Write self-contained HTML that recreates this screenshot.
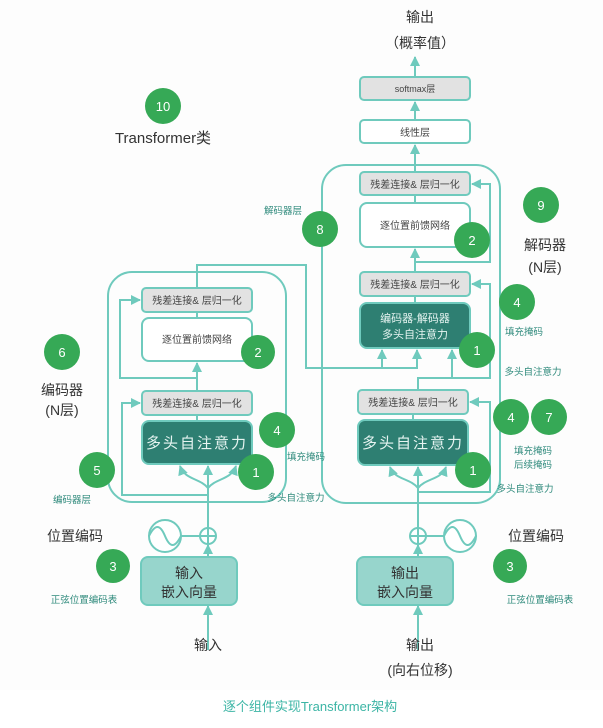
<!DOCTYPE html>
<html><head><meta charset="utf-8"><style>
html,body{margin:0;padding:0;background:#fff;}
svg{display:block;font-family:"Liberation Sans","Noto Sans CJK SC",sans-serif;}
</style></head><body>
<svg width="603" height="728" viewBox="0 0 603 728" xmlns="http://www.w3.org/2000/svg">
<defs>
<marker id="a" viewBox="0 0 10 10" refX="9" refY="5" markerWidth="5" markerHeight="5" orient="auto"><path d="M0,0 L10,5 L0,10 z" fill="#6fcabd"/></marker>
</defs>
<rect x="0" y="0" width="603" height="690" fill="#fdfdfd"/>
<g fill="none" stroke="#6fcabd" stroke-width="2">
<!-- encoder outer -->
<rect x="108" y="272" width="178" height="230" rx="24"/>
<!-- decoder outer -->
<rect x="322" y="165" width="178" height="338" rx="24"/>
<!-- encoder flow -->
<line x1="208" y1="650" x2="208" y2="606" marker-end="url(#a)"/>
<line x1="208" y1="557" x2="208" y2="545" marker-end="url(#a)"/>
<line x1="208" y1="528" x2="208" y2="466" marker-end="url(#a)"/>
<path d="M208,488 C200,478 185,480 180,466" marker-end="url(#a)"/>
<path d="M208,488 C216,478 231,480 236,466" marker-end="url(#a)"/>
<path d="M208,495 L122,495 L122,403 L140,403" marker-end="url(#a)"/>
<line x1="197" y1="421" x2="197" y2="415"/>
<line x1="197" y1="391" x2="197" y2="363" marker-end="url(#a)"/>
<path d="M197,378 L120,378 L120,300 L140,300" marker-end="url(#a)"/>
<line x1="197" y1="318" x2="197" y2="312"/>
<path d="M197,288 L197,265 L306,265 L306,368 L417,368 L417,350" marker-end="url(#a)"/>
<line x1="382" y1="368" x2="382" y2="350" marker-end="url(#a)"/>
<line x1="181" y1="536" x2="200" y2="536"/>
<!-- decoder flow -->
<line x1="418" y1="650" x2="418" y2="606" marker-end="url(#a)"/>
<line x1="418" y1="557" x2="418" y2="545" marker-end="url(#a)"/>
<line x1="418" y1="528" x2="418" y2="467" marker-end="url(#a)"/>
<path d="M418,488 C410,478 395,480 390,467" marker-end="url(#a)"/>
<path d="M418,488 C426,478 441,480 446,467" marker-end="url(#a)"/>
<path d="M418,492 L490,492 L490,402 L470,402" marker-end="url(#a)"/>
<line x1="413" y1="420" x2="413" y2="414"/>
<path d="M418,390 L418,378 L452,378 L452,350" marker-end="url(#a)"/>
<path d="M452,378 L490,378 L490,284 L472,284" marker-end="url(#a)"/>
<line x1="415" y1="303" x2="415" y2="296"/>
<line x1="415" y1="272" x2="415" y2="249" marker-end="url(#a)"/>
<path d="M415,262 L490,262 L490,184 L472,184" marker-end="url(#a)"/>
<line x1="415" y1="203" x2="415" y2="195"/>
<line x1="415" y1="172" x2="415" y2="145" marker-end="url(#a)"/>
<line x1="415" y1="120" x2="415" y2="102" marker-end="url(#a)"/>
<line x1="415" y1="77" x2="415" y2="57" marker-end="url(#a)"/>
<line x1="426" y1="536" x2="444" y2="536"/>
<!-- plus circles -->
<circle cx="208" cy="536" r="8" fill="#fff"/><line x1="200" y1="536" x2="216" y2="536"/><line x1="208" y1="528" x2="208" y2="544"/>
<circle cx="418" cy="536" r="8" fill="#fff"/><line x1="410" y1="536" x2="426" y2="536"/><line x1="418" y1="528" x2="418" y2="544"/>
<!-- sine circles -->
<circle cx="165" cy="536" r="16" fill="#fff"/><path d="M149,536 C155,524 160,524 165,536 C170,548 175,548 181,536"/>
<circle cx="460" cy="536" r="16" fill="#fff"/><path d="M444,536 C450,524 455,524 460,536 C465,548 470,548 476,536"/>
</g>
<!-- boxes -->
<g stroke="#6fcabd" stroke-width="2">
<rect x="142" y="288" width="110" height="24" rx="4" fill="#e2e2e2"/>
<rect x="142" y="318" width="110" height="43" rx="7" fill="#fff"/>
<rect x="142" y="391" width="110" height="24" rx="4" fill="#e2e2e2"/>
<rect x="142" y="421" width="110" height="43" rx="7" fill="#2e7f72"/>
<rect x="360" y="77" width="110" height="23" rx="4" fill="#e2e2e2"/>
<rect x="360" y="120" width="110" height="23" rx="4" fill="#fff"/>
<rect x="360" y="172" width="110" height="23" rx="4" fill="#e2e2e2"/>
<rect x="360" y="203" width="110" height="44" rx="7" fill="#fff"/>
<rect x="360" y="272" width="110" height="24" rx="4" fill="#e2e2e2"/>
<rect x="360" y="303" width="110" height="45" rx="7" fill="#2e7f72"/>
<rect x="358" y="390" width="110" height="24" rx="4" fill="#e2e2e2"/>
<rect x="358" y="420" width="110" height="45" rx="7" fill="#2e7f72"/>
<rect x="141" y="557" width="96" height="48" rx="7" fill="#97d5cc"/>
<rect x="357" y="557" width="96" height="48" rx="7" fill="#97d5cc"/>
</g>
<!-- box text -->
<g font-size="10" fill="#444" text-anchor="middle">
<text x="197" y="304">残差连接&amp; 层归一化</text>
<text x="197" y="343">逐位置前馈网络</text>
<text x="197" y="407">残差连接&amp; 层归一化</text>
<text x="415" y="92" font-size="9">softmax层</text>
<text x="415" y="136">线性层</text>
<text x="415" y="188">残差连接&amp; 层归一化</text>
<text x="415" y="229">逐位置前馈网络</text>
<text x="415" y="288">残差连接&amp; 层归一化</text>
<text x="413" y="406">残差连接&amp; 层归一化</text>
</g>
<g fill="#e6f4f1" text-anchor="middle">
<text x="197" y="448" font-size="15" letter-spacing="2">多头自注意力</text>
<text x="415" y="322" font-size="11">编码器-解码器</text>
<text x="415" y="338" font-size="11">多头自注意力</text>
<text x="413" y="448" font-size="15" letter-spacing="2">多头自注意力</text>
</g>
<g fill="#333" text-anchor="middle" font-size="14">
<text x="189" y="578">输入</text><text x="189" y="597">嵌入向量</text>
<text x="405" y="578">输出</text><text x="405" y="597">嵌入向量</text>
<text x="208" y="650">输入</text>
<text x="420" y="650">输出</text>
<text x="420" y="675">(向右位移)</text>
<text x="420" y="22">输出</text>
<text x="420" y="48">（概率值）</text>
<text x="163" y="143" font-size="15">Transformer类</text>
<text x="75" y="541">位置编码</text>
<text x="536" y="541">位置编码</text>
<text x="62" y="395">编码器</text>
<text x="62" y="415">(N层)</text>
<text x="545" y="250">解码器</text>
<text x="545" y="272">(N层)</text>
</g>
<g fill="#2f8a7c" text-anchor="middle" font-size="9.5">
<text x="72" y="503">编码器层</text>
<text x="296" y="501">多头自注意力</text>
<text x="306" y="460">填充掩码</text>
<text x="84" y="603">正弦位置编码表</text>
<text x="540" y="603">正弦位置编码表</text>
<text x="283" y="214">解码器层</text>
<text x="524" y="335">填充掩码</text>
<text x="533" y="375">多头自注意力</text>
<text x="533" y="454">填充掩码</text>
<text x="533" y="468">后续掩码</text>
<text x="525" y="492">多头自注意力</text>
</g>
<!-- numbered circles -->
<g fill="#36a956">
<circle cx="163" cy="106" r="18"/>
<circle cx="62" cy="352" r="18"/>
<circle cx="97" cy="470" r="18"/>
<circle cx="258" cy="352" r="17"/>
<circle cx="277" cy="430" r="18"/>
<circle cx="256" cy="472" r="18"/>
<circle cx="113" cy="566" r="17"/>
<circle cx="320" cy="229" r="18"/>
<circle cx="472" cy="240" r="18"/>
<circle cx="541" cy="205" r="18"/>
<circle cx="517" cy="302" r="18"/>
<circle cx="477" cy="350" r="18"/>
<circle cx="511" cy="417" r="18"/>
<circle cx="549" cy="417" r="18"/>
<circle cx="473" cy="470" r="18"/>
<circle cx="510" cy="566" r="17"/>
</g>
<g fill="#fff" text-anchor="middle" font-size="13">
<text x="163" y="111">10</text>
<text x="62" y="357">6</text>
<text x="97" y="475">5</text>
<text x="258" y="357">2</text>
<text x="277" y="435">4</text>
<text x="256" y="477">1</text>
<text x="113" y="571">3</text>
<text x="320" y="234">8</text>
<text x="472" y="245">2</text>
<text x="541" y="210">9</text>
<text x="517" y="307">4</text>
<text x="477" y="355">1</text>
<text x="511" y="422">4</text>
<text x="549" y="422">7</text>
<text x="473" y="475">1</text>
<text x="510" y="571">3</text>
</g>
<text x="310" y="711" text-anchor="middle" font-size="13" fill="#3cb5a5">逐个组件实现Transformer架构</text>
</svg>
</body></html>
